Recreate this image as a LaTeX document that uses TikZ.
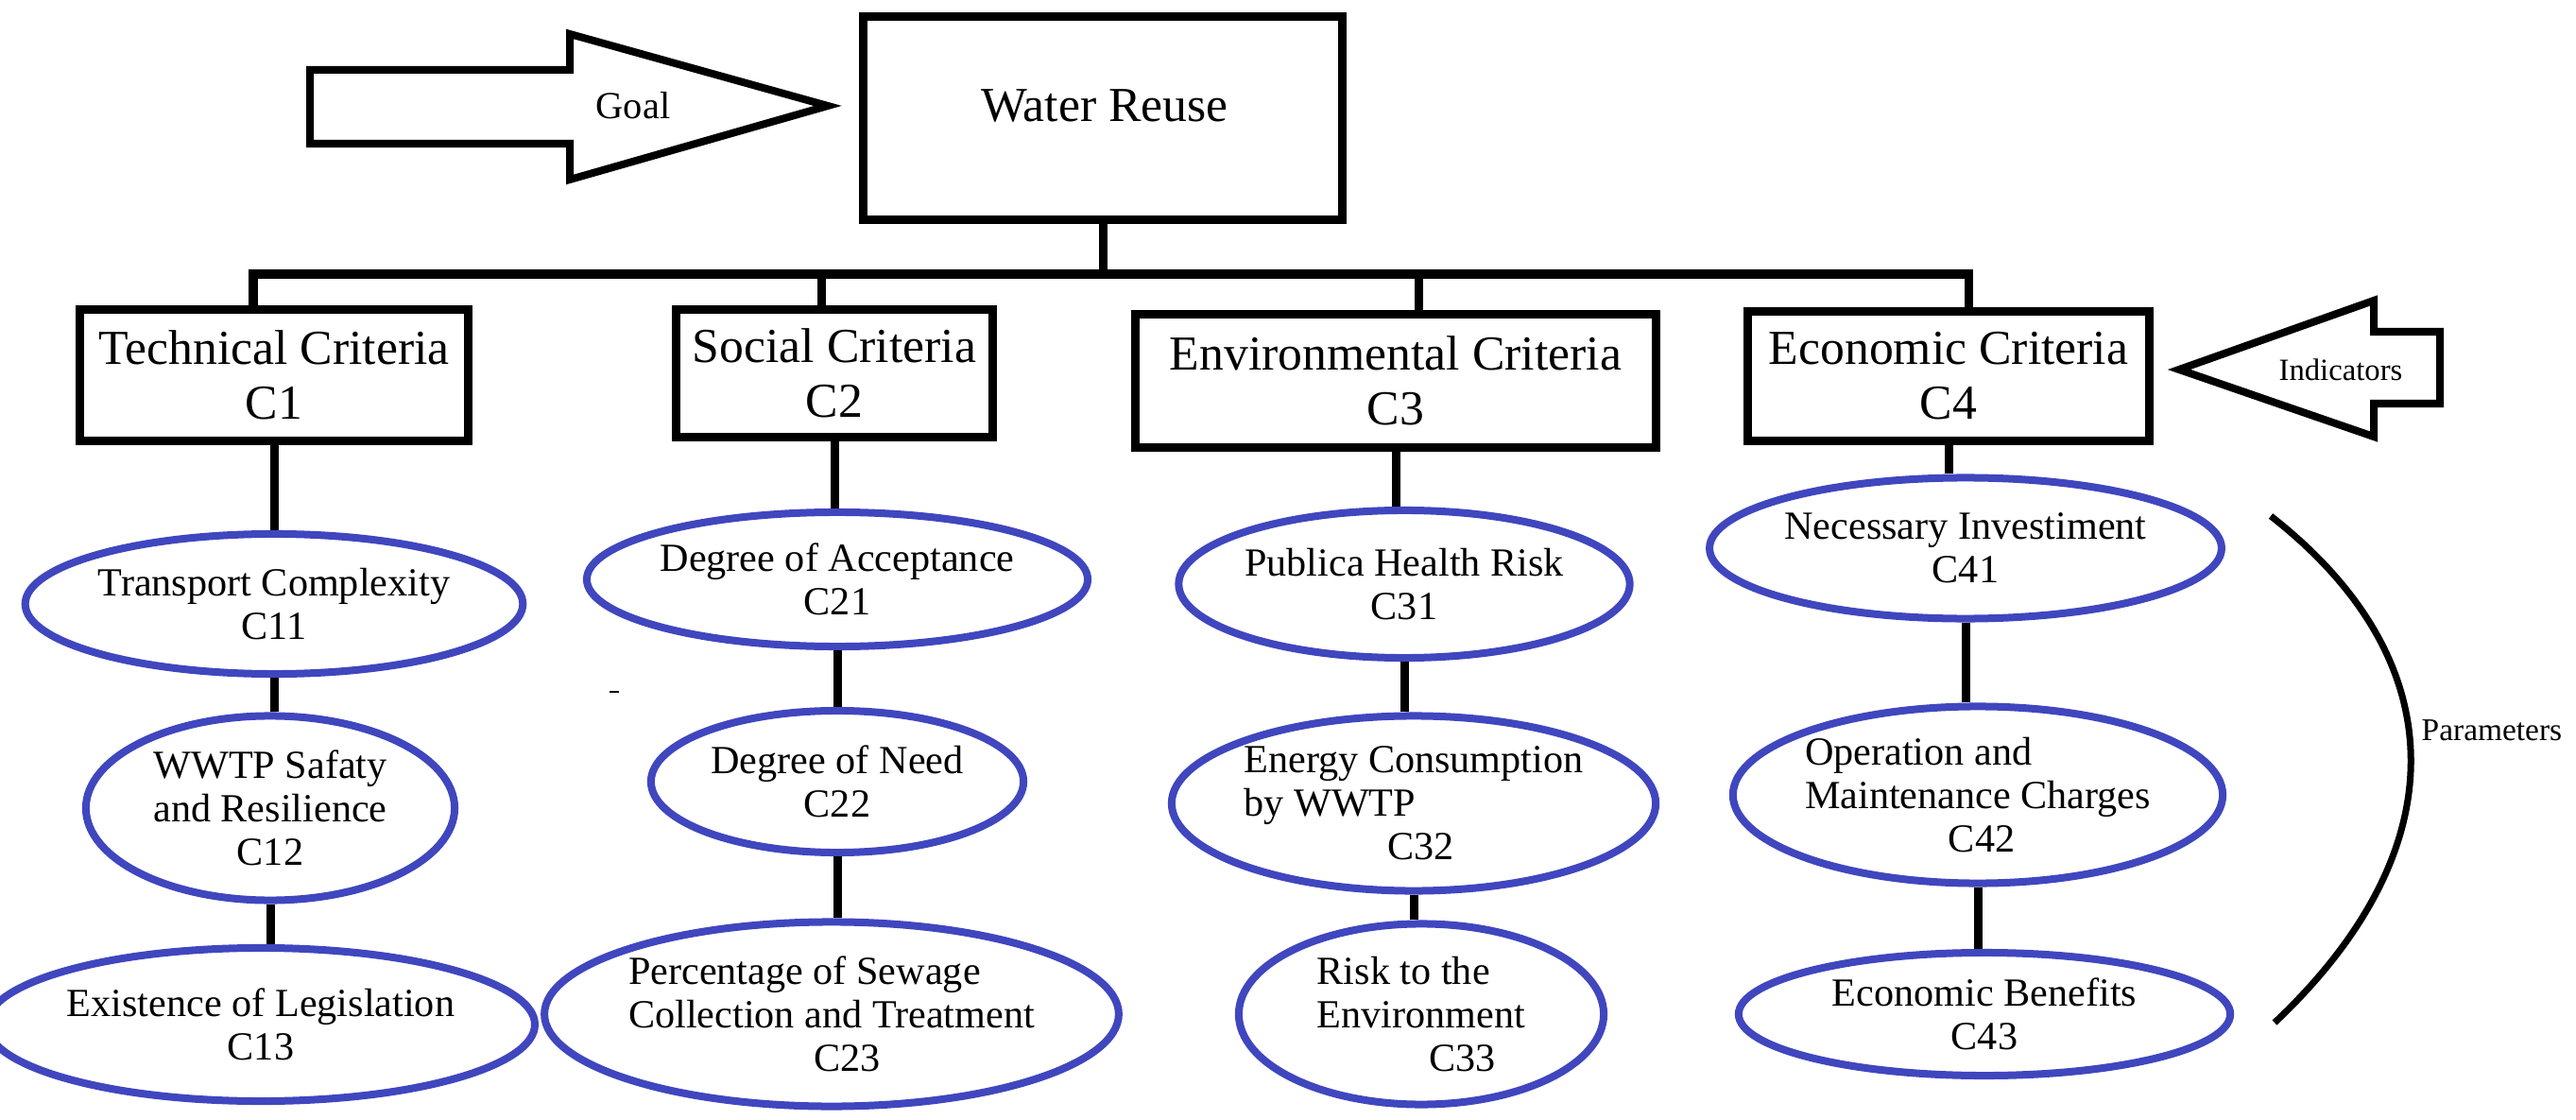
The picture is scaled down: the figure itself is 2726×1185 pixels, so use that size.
\documentclass[tikz,border=0pt]{standalone}
\usepackage{fontspec}
\setmainfont{Liberation Serif}
\usetikzlibrary{shapes.geometric}
\definecolor{ellblue}{RGB}{64,70,190}
\tikzset{
  crit/.style={draw=black,line width=0.09cm,rectangle,inner sep=0pt,font=\fontsize{14.7}{16.5}\selectfont,align=center},
  par/.style={draw=ellblue,line width=0.08cm,ellipse,inner sep=0pt,font=\fontsize{12}{13.1}\selectfont,align=center},
  link/.style={line width=0.09cm},
  bigarrow/.style={draw=black,line width=0.08cm,line join=miter},
  lab/.style={inner sep=0pt}
}
\begin{document}
\begin{tikzpicture}[x=0.01cm,y=-0.01cm]
\useasboundingbox[fill=white] (0,0) rectangle (2726,1185);
% goal arrow
\draw[bigarrow] (328,74) -- (603,74) -- (603,36) -- (876,112) -- (603,190) -- (603,152) -- (328,152) -- cycle;
\node[lab,font=\fontsize{11.5}{13}\selectfont] (goal) at (670,112) {Goal};
% water reuse
\node[crit,minimum width=5.07cm,minimum height=2.14cm] (wr) at (1167,125) {};
\node[lab,font=\fontsize{14.7}{16.5}\selectfont] (wrt) at (1169,112) {Water Reuse};
% criteria
\node[crit,minimum width=4.1cm,minimum height=1.38cm] (c1) at (290,397) {Technical Criteria\\C1};
\node[crit,minimum width=3.34cm,minimum height=1.34cm] (c2) at (883,395) {Social Criteria\\C2};
\node[crit,minimum width=5.51cm,minimum height=1.40cm] (c3) at (1477,403) {Environmental Criteria\\C3};
\node[crit,minimum width=4.25cm,minimum height=1.36cm] (c4) at (2062,398) {Economic Criteria\\C4};
% indicators arrow
\draw[bigarrow] (2306,391) -- (2512,318) -- (2512,351) -- (2582,351) -- (2582,427) -- (2512,427) -- (2512,462) -- cycle;
\node[lab,font=\fontsize{9.3}{11}\selectfont] (ind) at (2477,391) {Indicators};
% tree connectors
\coordinate (hl) at (268,290);
\coordinate (j2) at (869,290);
\coordinate (j3) at (1501,290);
\coordinate (hr) at (2083,290);
\draw[link] (wr.south) -- (wr.south |- hl);
\draw[link] (hl |- c1.north) -- (hl) -- (hr) -- (hr |- c4.north);
\draw[link] (j2) -- (j2 |- c2.north);
\draw[link] (j3) -- (j3 |- c3.north);
% parameter ellipses
\node[par,minimum width=4.78cm,minimum height=1.48cm] (c11) at (290,639) {Transport Complexity\\C11};
\node[par,minimum width=3.90cm,minimum height=1.95cm] (c12) at (286,855) {WWTP Safaty\\and Resilience\\C12};
\node[par,minimum width=5.20cm,minimum height=1.62cm] (c13) at (276,1084) {Existence of Legislation\\C13};
\node[par,minimum width=4.60cm,minimum height=1.42cm] (c21) at (886,613) {Degree of Acceptance\\C21};
\node[par,minimum width=3.94cm,minimum height=1.50cm] (c22) at (886,827) {Degree of Need\\C22};
\node[par,minimum width=5.76cm,minimum height=1.95cm,align=left] (c23) at (880,1073) {Percentage of Sewage\\Collection and Treatment\\\hspace*{4.65em}C23};
\node[par,minimum width=4.64cm,minimum height=1.56cm] (c31) at (1486,618) {Publica Health Risk\\C31};
\node[par,minimum width=5.12cm,minimum height=1.85cm,align=left] (c32) at (1496,850) {Energy Consumption\\by WWTP\\\hspace*{3.6em}C32};
\node[par,minimum width=3.86cm,minimum height=1.91cm,align=left] (c33) at (1504,1073) {Risk to the\\Environment\\\hspace*{2.8em}C33};
\node[par,minimum width=4.83cm,minimum height=1.49cm] (c41) at (2080,580) {Necessary Investiment\\C41};
\node[par,minimum width=5.18cm,minimum height=1.87cm,align=left] (c42) at (2093,841) {Operation and\\Maintenance Charges\\\hspace*{3.6em}C42};
\node[par,minimum width=5.20cm,minimum height=1.30cm] (c43) at (2100,1073) {Economic Benefits\\C43};
% vertical links
\draw[link] (c1.south) -- (c1.south |- c11.north);
\draw[link] (c2.south) -- (c2.south |- c21.north);
\draw[link] (c3.south) -- (c3.south |- c31.north);
\draw[link] (c4.south) -- (c4.south |- c41.north);
\draw[link] (c11.south) -- (c11.south |- c12.north);
\draw[link] (c12.south) -- (c12.south |- c13.north);
\draw[link] (c21.south) -- (c21.south |- c22.north);
\draw[link] (c22.south) -- (c22.south |- c23.north);
\draw[link] (c31.south) -- (c31.south |- c32.north);
\draw[link] (c32.south) -- (c32.south |- c33.north);
\draw[link] (c41.south) -- (c41.south |- c42.north);
\draw[link] (c42.south) -- (c42.south |- c43.north);
% parameters brace
\coordinate (pa) at (2403,546);
\coordinate (pb) at (2407,1082);
\draw[line width=0.07cm] (pa) .. controls (2600,700) and (2600,900) .. (pb);
\node[lab,anchor=west,font=\fontsize{9.5}{11}\selectfont] (param) at (2562,773) {Parameters};
% stray mark
\draw[line width=0.02cm] (645,732) -- (655,732);
\end{tikzpicture}
\end{document}
